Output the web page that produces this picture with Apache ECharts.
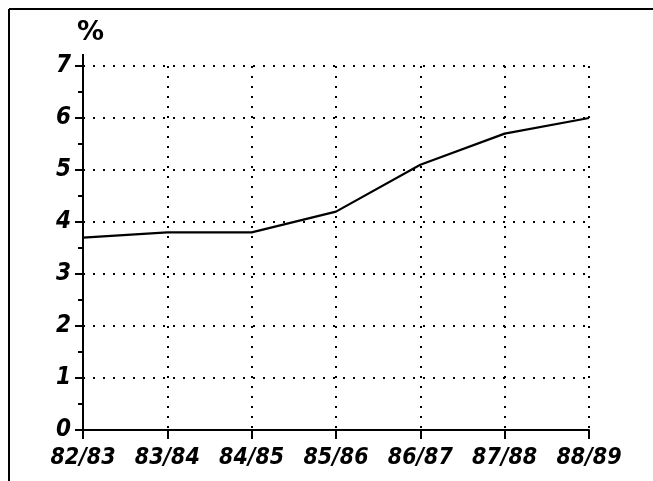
<!DOCTYPE html>
<html>
<head>
<meta charset="utf-8">
<script src="https://cdn.jsdelivr.net/npm/echarts@6/dist/echarts.min.js"></script>
<style>
html, body { margin: 0; padding: 0; background: #fff; }
#cn { width: 653px; height: 481px; }
</style>
</head>
<body>
<div id="cn"></div>
<script>
'use strict';

const YEARS = ['82/83', '83/84', '84/85', '85/86', '86/87', '87/88', '88/89'];
const VALUES = [3.7, 3.8, 3.8, 4.2, 5.1, 5.7, 6.0];
const Y_TICKS = [0, 1, 2, 3, 4, 5, 6, 7];

const FONT = '"Liberation Sans Narrow", "DejaVu Sans Condensed", sans-serif';
const INK = '#000';

const dotted = { color: INK, width: 2, type: [2, 8] };

const chart = echarts.init(document.getElementById('cn'), null, { renderer: 'canvas' });

const option = {
	animation: false,
	backgroundColor: '#fff',
	grid: { left: 83, right: 64, top: 66, bottom: 51, containLabel: false },
	// frame (left + top only, the rest is cut off in the scan)
	graphic: [
		{ type: 'line', shape: { x1: 9, y1: 9, x2: 9, y2: 481 }, style: { stroke: INK, lineWidth: 2 } },
		{ type: 'line', shape: { x1: 9, y1: 9, x2: 653, y2: 9 }, style: { stroke: INK, lineWidth: 2 } },
		{ type: 'line', shape: { x1: 83, y1: 54, x2: 83, y2: 66 }, style: { stroke: INK, lineWidth: 2 } },
		{ type: 'text', left: 77, top: 19, style: { text: '%', font: 'bold 27px "DejaVu Sans", sans-serif', fill: INK } }
	],
	xAxis: {
		type: 'category',
		data: YEARS,
		boundaryGap: false,
		axisLine: { lineStyle: { color: INK, width: 2 } },
		axisTick: { show: true, interval: 0, length: 9, lineStyle: { color: INK, width: 2 } },
		axisLabel: {
			interval: 0, color: INK, fontFamily: FONT, fontSize: 23, fontStyle: 'italic', fontWeight: 'bold', margin: 17
		},
		splitLine: { show: true, interval: 0, lineStyle: dotted }
	},
	yAxis: {
		type: 'value',
		min: Y_TICKS[0],
		max: Y_TICKS[Y_TICKS.length - 1],
		interval: 1,
		axisLine: { show: true, lineStyle: { color: INK, width: 2 } },
		axisTick: { show: true, length: 8, lineStyle: { color: INK, width: 2 } },
		minorTick: { show: true, splitNumber: 2, length: 5, lineStyle: { color: INK, width: 2 } },
		axisLabel: {
			color: INK, fontFamily: FONT, fontSize: 24, fontStyle: 'italic', fontWeight: 'bold', margin: 12
		},
		splitLine: { show: true, lineStyle: dotted }
	},
	series: [{
		type: 'line',
		data: VALUES,
		symbol: 'none',
		lineStyle: { color: INK, width: 2.2 }
	}]
};

chart.setOption(option);
</script>
</body>
</html>
